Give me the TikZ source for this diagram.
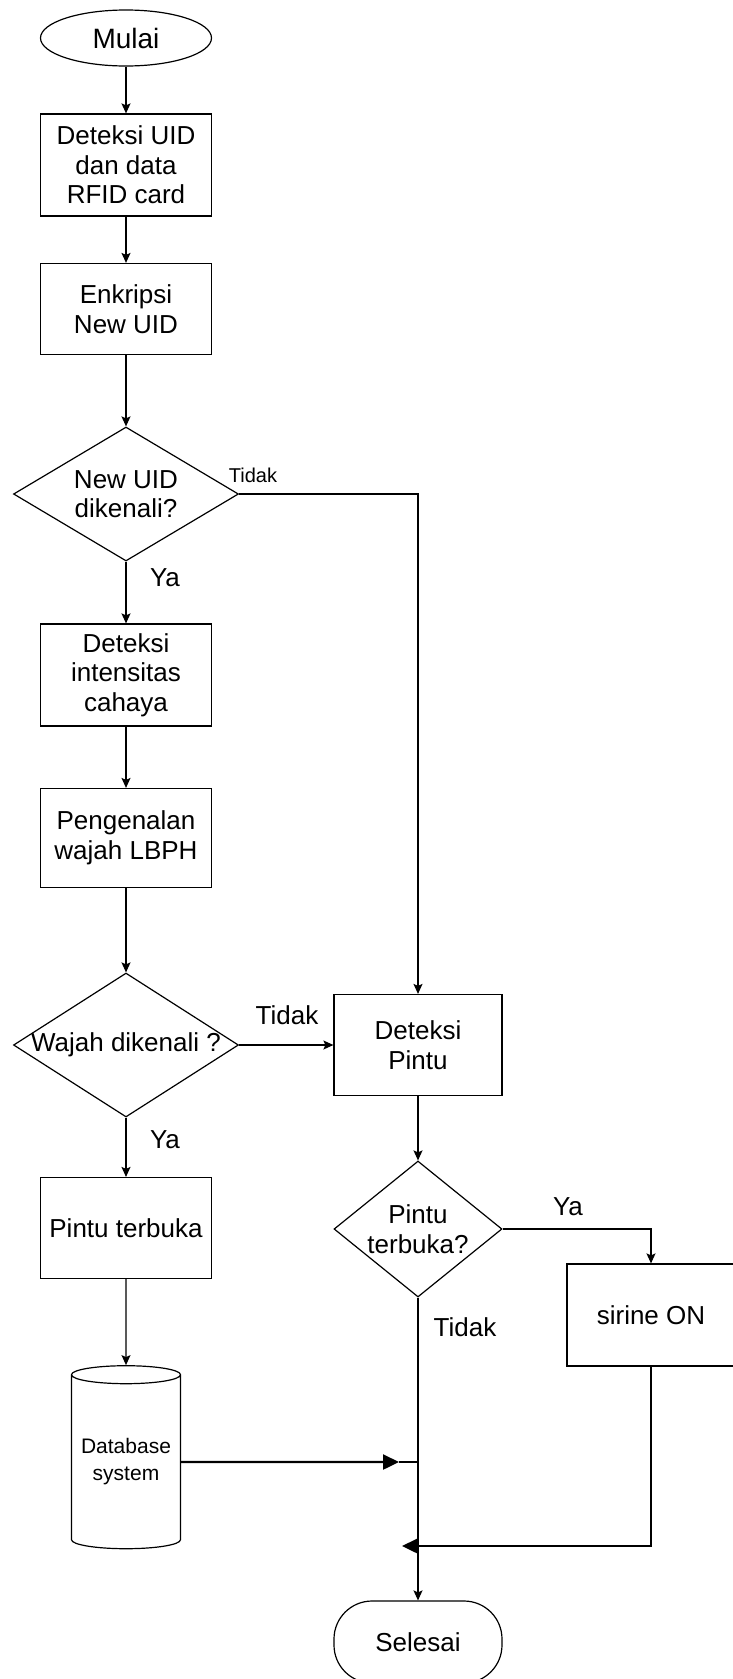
\documentclass[tikz,border=0pt]{standalone}
\usepackage{fontspec}
\setmainfont{Liberation Sans}
\usetikzlibrary{shapes.geometric,arrows.meta}

\tikzset{
  teks/.style={font=\fontsize{26}{29.5}\selectfont},
  proses/.style={draw, line width=1.2pt, minimum width=171pt, minimum height=100pt, inner sep=2pt, align=center, teks},
  keputusan/.style={draw, diamond, line width=1.2pt, inner sep=-2pt, align=center, teks},
  terminal/.style={draw, line width=1.2pt, minimum width=168pt, align=center, teks},
  basisdata/.style={draw, cylinder, shape border rotate=90, aspect=0.2, line width=1.2pt, minimum width=109pt, minimum height=183pt, inner sep=0pt, align=center, font=\fontsize{21}{27}\selectfont},
  ket/.style={inner sep=0pt, teks},
  garis/.style={line width=1.2pt},
  panah/.style={garis, -{Stealth[length=10pt,width=9pt,inset=2pt]}},
  panahtebal/.style={line width=2.4pt, -{Triangle[length=16pt,width=15pt]}}
}

\begin{document}
\begin{tikzpicture}[x=1pt,y=-1pt]
  \useasboundingbox (0,0) rectangle (732,1679);

  \node[terminal, ellipse, minimum width=171pt, minimum height=56pt, inner sep=0pt, font=\fontsize{28}{32}\selectfont] (mulai) at (126,38) {Mulai};
  \node[proses, minimum height=102pt] (uid) at (126,165) {Deteksi UID\\dan data\\RFID card};
  \node[proses, minimum height=91pt] (enkripsi) at (126,309) {Enkripsi\\New UID};
  \node[keputusan, aspect=1.68, minimum width=225pt, minimum height=134pt] (cekuid) at (126,494) {New UID\\dikenali?};
  \node[proses, minimum height=102pt] (cahaya) at (126,675) {Deteksi\\intensitas\\cahaya};
  \node[proses, minimum height=99pt] (lbph) at (126,838) {Pengenalan\\wajah LBPH};
  \node[keputusan, aspect=1.56, minimum width=225pt, minimum height=144pt] (cekwajah) at (126,1045) {Wajah dikenali ?};
  \node[proses, minimum width=168pt, minimum height=101pt] (pintu) at (418,1045) {Deteksi\\Pintu};
  \node[proses, minimum height=101pt] (buka) at (126,1228) {Pintu terbuka};
  \node[keputusan, aspect=1.24, minimum width=168pt, minimum height=136pt] (cekpintu) at (418,1229) {Pintu\\terbuka?};
  \node[proses, minimum width=168pt, minimum height=102pt] (sirine) at (651,1315) {sirine ON};
  \node[basisdata] (db) at (126,1462) {Database\\system};
  \node[terminal, rounded corners=38pt, minimum height=82pt] (selesai) at (418,1642) {Selesai};

  \draw[panah] (mulai) -- (uid);
  \draw[panah] (uid) -- (enkripsi);
  \draw[panah] (enkripsi) -- (cekuid);
  \draw[panah] (cekuid) -- (cahaya);
  \draw[panah] (cahaya) -- (lbph);
  \draw[panah] (lbph) -- (cekwajah);
  \draw[panah] (cekwajah) -- (buka);
  \draw[panah] (buka) -- (db);
  \draw[panah] (cekuid.east) -| (pintu.north);
  \draw[panah] (cekwajah.east) -- (pintu.west);
  \draw[panah] (pintu) -- (cekpintu);
  \draw[panah] (cekpintu.east) -| (sirine.north);
  \draw[panah] (cekpintu.south) -- (selesai.north);

  \coordinate (ujungdb) at (399,1462);
  \draw[panahtebal] (db.east) -- (ujungdb);
  \draw[garis] (ujungdb) -- (cekpintu.south |- ujungdb);
  \coordinate (sudut) at (651,1546);
  \coordinate (awal) at (630,1546);
  \coordinate (ujungsirine) at (402,1546);
  \draw[garis] (sirine.south) -- (sudut) -- (awal);
  \draw[panahtebal] (awal) -- (ujungsirine);

  \node[ket, font=\fontsize{20}{22}\selectfont] (tidak1) at (253,475) {Tidak};
  \node[ket] (ya1) at (165,578) {Ya};
  \node[ket] (tidak2) at (287,1015) {Tidak};
  \node[ket] (ya2) at (165,1140) {Ya};
  \node[ket] (ya3) at (568,1207) {Ya};
  \node[ket] (tidak3) at (465,1327) {Tidak};
\end{tikzpicture}
\end{document}
